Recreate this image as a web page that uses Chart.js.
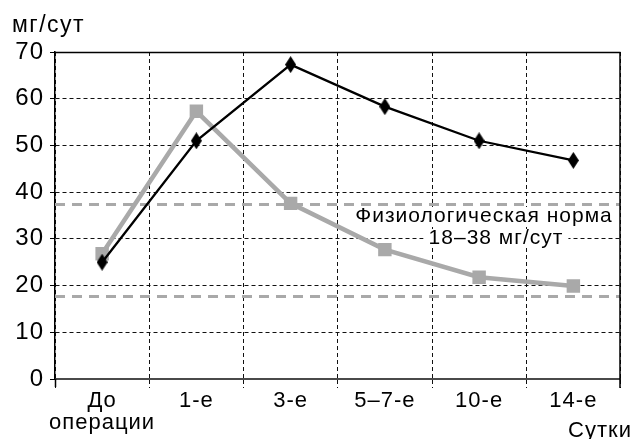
<!DOCTYPE html>
<html>
<head>
<meta charset="utf-8">
<script src="https://cdn.jsdelivr.net/npm/chart.js@4/dist/chart.umd.min.js"></script>
<style>
  html, body { margin: 0; padding: 0; background: #fff; }
  #wrap { width: 630px; height: 439px; position: relative; }
</style>
</head>
<body>
<div id="wrap"><canvas id="c" width="630" height="439"></canvas></div>
<script>
// ---- data ----
const categories = [['До', 'операции'], '1-е', '3-е', '5–7-е', '10-е', '14-е'];
const blackSeries = [25, 51, 67.3, 58.3, 51, 46.8];
const graySeries = [26.8, 57.3, 37.6, 27.7, 21.8, 19.9];
const normRange = [17.7, 37.5];
const yMin = 0, yMax = 70, yStep = 10;
const yUnitLabel = 'мг/сут';
const xUnitLabel = 'Сутки';
const normLabel = ['Физиологическая норма', '18–38 мг/сут'];

const FONT = '"Liberation Sans", Arial, Helvetica, sans-serif';
const GRAY = '#a9a9a9';

// tall diamond marker
function diamond(w, h, color) {
  const c = document.createElement('canvas');
  c.width = w; c.height = h;
  const x = c.getContext('2d');
  x.fillStyle = color;
  x.beginPath();
  x.moveTo(w / 2, 0);
  x.lineTo(w, h / 2);
  x.lineTo(w / 2, h);
  x.lineTo(0, h / 2);
  x.closePath();
  x.fill();
  return c;
}
const diamondImg = diamond(11, 17, '#000');

const framePlugin = {
  id: 'frame',
  beforeDraw(chart) {
    chart.ctx.letterSpacing = '1px';
  },
  beforeDatasetsDraw(chart) {
    const ctx = chart.ctx, a = chart.chartArea, y = chart.scales.y;
    ctx.save();
    // norm lines
    ctx.strokeStyle = GRAY;
    ctx.lineWidth = 3;
    ctx.setLineDash([10, 7]);
    normRange.forEach(v => {
      const py = Math.round(y.getPixelForValue(v)) + 0.5;
      ctx.beginPath();
      ctx.moveTo(a.left, py);
      ctx.lineTo(a.right, py);
      ctx.stroke();
    });
    ctx.setLineDash([]);
    // norm label with white background
    ctx.font = '21px ' + FONT;
    ctx.letterSpacing = '1px';
    ctx.textAlign = 'center';
    ctx.textBaseline = 'alphabetic';
    const lines = [
      { t: normLabel[0], cx: a.left + 429, by: 222 },
      { t: normLabel[1], cx: a.left + 441, by: 244 }
    ];
    lines.forEach(l => {
      const w = ctx.measureText(l.t).width;
      ctx.fillStyle = '#fff';
      ctx.fillRect(l.cx - w / 2 - 5, l.by - 15, w + 10, 19);
    });
    ctx.fillStyle = '#000';
    lines.forEach(l => ctx.fillText(l.t, l.cx, l.by));
    ctx.restore();
  },
  afterDraw(chart) {
    const ctx = chart.ctx, a = chart.chartArea;
    ctx.save();
    ctx.strokeStyle = '#000';
    ctx.lineWidth = 1.5;
    ctx.beginPath();
    ctx.moveTo(a.left, a.top + 0.5);
    ctx.lineTo(a.right, a.top + 0.5);
    ctx.moveTo(a.right - 0.5, a.top);
    ctx.lineTo(a.right - 0.5, a.bottom + 9);
    ctx.moveTo(a.left + 0.5, a.bottom);
    ctx.lineTo(a.left + 0.5, a.bottom + 8);
    ctx.stroke();
    ctx.fillStyle = '#000';
    ctx.letterSpacing = '1.5px';
    ctx.font = '23px ' + FONT;
    ctx.textAlign = 'left';
    ctx.textBaseline = 'alphabetic';
    ctx.fillText(yUnitLabel, 12, 32);
    ctx.font = '22px ' + FONT;
    ctx.letterSpacing = '1px';
    ctx.textAlign = 'right';
    ctx.fillText(xUnitLabel, 632, 437);
    ctx.restore();
  }
};

new Chart(document.getElementById('c'), {
  type: 'line',
  data: {
    labels: categories,
    datasets: [
      {
        label: 'A',
        data: blackSeries,
        borderColor: '#000',
        borderWidth: 2.3,
        pointStyle: diamondImg,
        pointRadius: 8,
        pointHoverRadius: 8,
        pointBorderWidth: 0,
        tension: 0
      },
      {
        label: 'B',
        data: graySeries,
        borderColor: GRAY,
        backgroundColor: GRAY,
        borderWidth: 4.5,
        pointStyle: 'rect',
        pointRadius: 9.5,
        pointHoverRadius: 9.5,
        pointBorderWidth: 0,
        pointBackgroundColor: GRAY,
        tension: 0
      }
    ]
  },
  options: {
    responsive: false,
    animation: false,
    devicePixelRatio: 1,
    layout: { padding: { top: 52, right: 2, left: 0, bottom: 0 } },
    plugins: { legend: { display: false }, tooltip: { enabled: false } },
    scales: {
      x: {
        offset: true,
        grid: {
          offset: true,
          color: '#111',
          lineWidth: 1,
          drawTicks: true,
          tickLength: 9,
          tickColor: '#111',
          tickBorderDash: [4, 3]
        },
        border: { display: true, color: '#4a4a4a', width: 2, dash: [4, 3] },
        ticks: {
          color: '#000',
          font: { family: FONT, size: 22, lineHeight: 1.04 },
          padding: 1,
          maxRotation: 0,
          autoSkip: false
        },
        afterFit(s) { s.height = 60; }
      },
      y: {
        min: yMin,
        max: yMax,
        grid: {
          color: '#111',
          lineWidth: 1,
          tickLength: 5,
          tickColor: '#000'
        },
        border: { display: true, color: '#000', width: 1.5, dash: [4, 3] },
        ticks: {
          stepSize: yStep,
          color: '#000',
          font: { family: FONT, size: 24 },
          padding: 6
        },
        afterFit(s) { s.width = 55; }
      }
    }
  },
  plugins: [framePlugin]
});
</script>
</body>
</html>
